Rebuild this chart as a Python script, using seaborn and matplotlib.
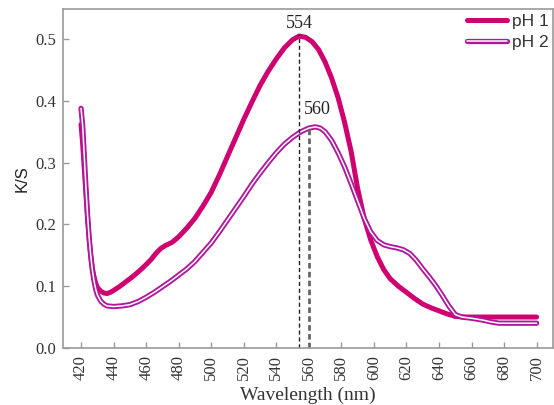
import numpy as np
import pandas as pd
import matplotlib
matplotlib.use("Agg")
import matplotlib.pyplot as plt
import matplotlib.patheffects as pe
import seaborn as sns

# K/S spectra
wl_ph1 = [420, 421, 422, 423, 424, 425, 426, 427, 428, 429, 430, 432, 434, 436,
          438, 440, 444, 448, 452, 456, 460, 463, 466, 469, 472, 476, 480, 485,
          490, 495, 500, 505, 510, 515, 520, 525, 530, 535, 540, 545, 550, 554,
          558, 562, 566, 570, 574, 578, 582, 586, 590, 594, 598, 602, 606, 610,
          615, 620, 625, 630, 635, 640, 645, 650, 655, 660, 680, 700]
ks_ph1 = [0.362, 0.330, 0.290, 0.250, 0.210, 0.175, 0.148, 0.128, 0.115, 0.105,
          0.098, 0.092, 0.089, 0.088, 0.090, 0.093, 0.100, 0.108, 0.116, 0.125,
          0.135, 0.143, 0.153, 0.161, 0.166, 0.171, 0.180, 0.194, 0.210, 0.230,
          0.252, 0.280, 0.310, 0.340, 0.370, 0.398, 0.425, 0.448, 0.468, 0.486,
          0.499, 0.505, 0.503, 0.496, 0.483, 0.463, 0.437, 0.405, 0.365, 0.318,
          0.258, 0.210, 0.175, 0.148, 0.127, 0.112, 0.100, 0.090, 0.080, 0.071,
          0.065, 0.060, 0.055, 0.051, 0.050, 0.050, 0.050, 0.050]

wl_ph2 = [420, 421, 422, 423, 424, 425, 426, 427, 428, 429, 430, 432, 434, 436,
          440, 445, 450, 455, 460, 465, 470, 475, 480, 485, 490, 495, 500, 505,
          510, 515, 520, 525, 530, 535, 540, 545, 550, 555, 560, 564, 567, 570,
          574, 578, 582, 586, 590, 594, 598, 602, 606, 610, 614, 618, 622, 626,
          630, 634, 638, 642, 646, 650, 654, 660, 667, 672, 677, 690, 700]
ks_ph2 = [0.388, 0.360, 0.310, 0.260, 0.215, 0.178, 0.148, 0.125, 0.108, 0.095,
          0.086, 0.076, 0.071, 0.068, 0.067, 0.068, 0.070, 0.075, 0.082, 0.090,
          0.099, 0.108, 0.118, 0.128, 0.140, 0.155, 0.170, 0.188, 0.207, 0.226,
          0.245, 0.265, 0.283, 0.300, 0.316, 0.330, 0.341, 0.350, 0.356, 0.358,
          0.356, 0.350, 0.336, 0.316, 0.293, 0.266, 0.238, 0.210, 0.188, 0.174,
          0.167, 0.164, 0.162, 0.159, 0.153, 0.142, 0.128, 0.115, 0.101, 0.085,
          0.068, 0.054, 0.050, 0.048, 0.045, 0.042, 0.040, 0.040, 0.040]

peak_ph1 = 554
peak_ph2 = 560
peak_ks1 = 0.508
peak_ks2 = 0.355

sns.set_style("ticks")
plt.rcParams['font.family'] = ['Liberation Serif', 'DejaVu Serif']

c1 = '#CF006F'
c2 = '#B0189C'
grey = '#9a9a9a'
sans = ['Liberation Sans', 'DejaVu Sans']

df1 = pd.DataFrame({'wl': wl_ph1, 'ks': ks_ph1})
df2 = pd.DataFrame({'wl': wl_ph2, 'ks': ks_ph2})

fig = plt.figure(figsize=(5.54, 4.05), dpi=100)
ax = fig.add_axes([0.114, 0.141, 0.884, 0.837])

sns.lineplot(data=df1, x='wl', y='ks', ax=ax, color=c1, linewidth=3.6,
             label='pH 1', solid_capstyle='round', solid_joinstyle='round')
sns.lineplot(data=df2, x='wl', y='ks', ax=ax, color='white', linewidth=1.1,
             label='pH 2', solid_joinstyle='round',
             path_effects=[pe.Stroke(linewidth=3.8, foreground=c2,
                                     joinstyle='round', capstyle='round'),
                           pe.Normal()])

# peak markers
ax.plot([peak_ph1, peak_ph1], [0, peak_ks1], color='#222222', lw=1.0,
        linestyle=(0, (3, 2)))
ax.plot([peak_ph2, peak_ph2], [0, peak_ks2], color='#666666', lw=2.0,
        linestyle=(0, (2, 1.2)))
ax.text(peak_ph1, 0.511, str(peak_ph1), ha='center', va='bottom',
        fontsize=13, color='#222222')
ax.text(peak_ph2 + 5, 0.372, str(peak_ph2), ha='center', va='bottom',
        fontsize=13, color='#222222')

ax.set_xlim(409, 710)
ax.set_ylim(0, 0.549)
ax.set_xticks(np.arange(420, 701, 20))
ax.set_yticks(np.arange(0, 0.51, 0.1))
ax.set_yticklabels([f'{v:.1f}' for v in np.arange(0, 0.51, 0.1)])
ax.tick_params(axis='x', rotation=90)
ax.tick_params(direction='in', length=4, width=1, color=grey, pad=5,
               labelsize=12, labelcolor='#333333')

for s in ax.spines.values():
    s.set_color(grey)
    s.set_linewidth(1.2)

ax.set_xlabel('Wavelength (nm)', fontsize=14, color='#333333', labelpad=5)
ax.set_ylabel('K/S', fontsize=12, color='#222222', family=sans, labelpad=4)

leg = ax.legend(loc='upper right', bbox_to_anchor=(0.991, 0.966),
                bbox_transform=fig.transFigure, frameon=False,
                prop={'family': sans, 'size': 12.5},
                handlelength=2.3, handletextpad=0.3, labelspacing=0.32,
                borderaxespad=0, borderpad=0)
for t in leg.get_texts():
    t.set_color('#333333')

fig.savefig('out.png', dpi=100)
